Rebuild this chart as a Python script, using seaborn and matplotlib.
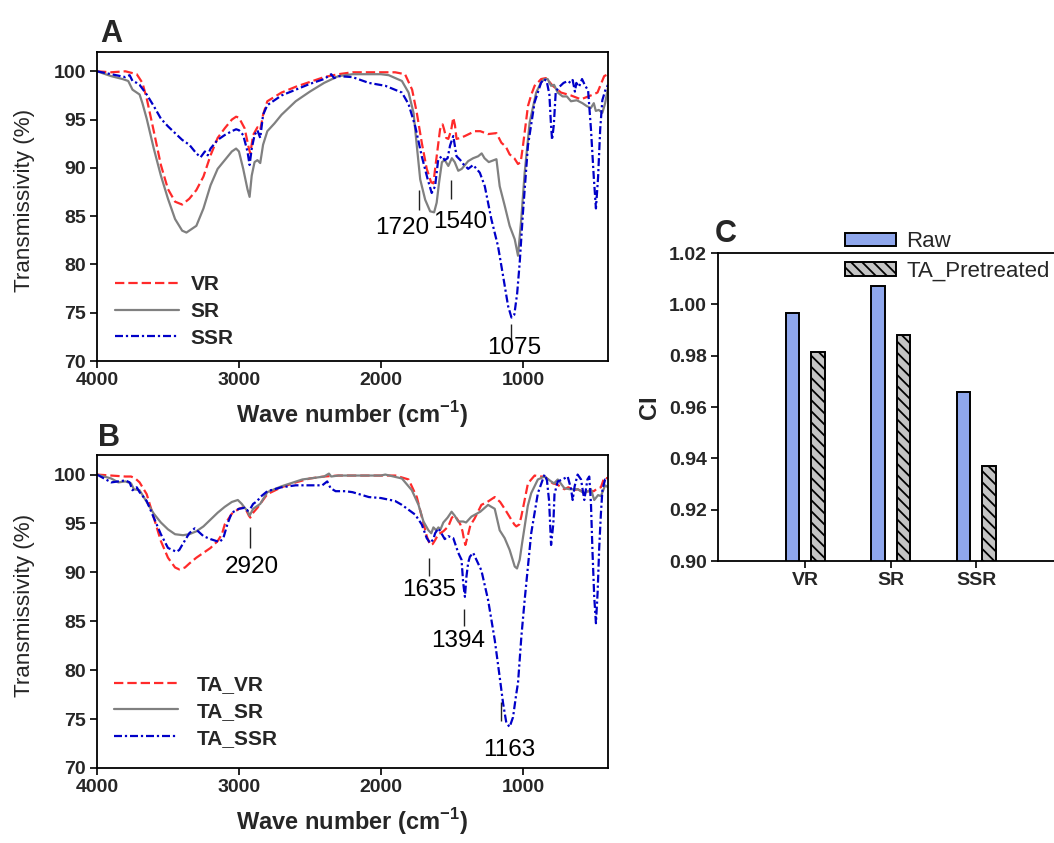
import numpy as np
import pandas as pd
import matplotlib
matplotlib.use("Agg")
import matplotlib.pyplot as plt
import seaborn as sns

# ---------------- Panel A data (wave number cm-1, transmissivity %) ----------------
wn_vr = [4000, 3900, 3800, 3720, 3680, 3650, 3600, 3550, 3500, 3450,
         3400, 3350, 3300, 3250, 3200, 3150, 3100, 3050, 3020, 3000,
         2960, 2930, 2920, 2900, 2870, 2850, 2830, 2800, 2700, 2600,
         2500, 2400, 2300, 2200, 2000, 1900, 1830, 1780, 1747, 1712,
         1677, 1646, 1630, 1618, 1600, 1583, 1565, 1555, 1540, 1525,
         1505, 1490, 1478, 1467, 1440, 1408, 1338, 1300, 1245, 1186,
         1151, 1120, 1093, 1060, 1034, 1015, 999, 980, 964, 940,
         917, 890, 871, 836, 789, 731, 661, 591, 521, 474,
         427, 400]
t_vr = [100, 99.9, 100, 99.7, 98.8, 97.2, 93.8, 90.3, 87.8, 86.5,
        86.2, 86.8, 87.7, 89.1, 91.3, 93.1, 94.1, 95.0, 95.3, 95.2,
        94.1, 92.0, 91.5, 93.4, 94.2, 93.9, 95.5, 96.9, 97.8, 98.4,
        98.9, 99.4, 99.7, 99.9, 99.9, 99.9, 99.7, 98.1, 95.7, 92.6,
        89.9, 88.5, 88.4, 89.9, 92.0, 94.0, 94.5, 94.0, 93.1, 93.0,
        93.9, 95.2, 94.4, 93.0, 93.1, 93.3, 93.8, 93.8, 93.5, 93.6,
        92.6, 92.2, 91.4, 91.0, 90.4, 90.6, 92.3, 94.5, 96.4, 97.6,
        98.5, 98.9, 99.2, 99.3, 98.5, 97.8, 97.5, 97.1, 97.5, 97.8,
        99.5, 99.7]

wn_sr = [4000, 3900, 3820, 3780, 3750, 3700, 3680, 3650, 3600, 3550,
         3500, 3450, 3400, 3370, 3330, 3300, 3250, 3200, 3150, 3100,
         3050, 3020, 3000, 2970, 2940, 2925, 2910, 2890, 2870, 2850,
         2830, 2800, 2750, 2700, 2600, 2500, 2400, 2300, 2200, 2000,
         1945, 1852, 1805, 1770, 1747, 1723, 1688, 1653, 1625, 1607,
         1590, 1570, 1550, 1525, 1500, 1480, 1455, 1430, 1385, 1350,
         1315, 1290, 1270, 1240, 1186, 1163, 1128, 1093, 1057, 1034,
         1011, 987, 952, 906, 870, 847, 825, 801, 780, 754,
         720, 690, 661, 620, 580, 550, 521, 500, 486, 465,
         440, 420, 400]
t_sr = [100, 99.5, 99.2, 99.0, 98.1, 97.6, 96.7, 95.1, 92.0, 89.2,
        86.8, 84.7, 83.5, 83.3, 83.7, 84.0, 85.8, 88.2, 89.9, 90.8,
        91.7, 92.0, 91.7, 89.9, 87.8, 87.0, 89.2, 90.6, 90.8, 90.5,
        92.4, 93.8, 94.6, 95.5, 96.9, 97.9, 98.8, 99.5, 99.7, 99.7,
        99.6, 99.0, 97.8, 95.7, 92.3, 88.8, 86.7, 85.5, 85.4, 86.4,
        88.5, 90.6, 90.8, 90.2, 91.0, 90.6, 89.7, 89.9, 90.7, 91.0,
        91.2, 91.5, 91.0, 90.6, 90.9, 88.1, 86.1, 84.0, 82.6, 80.9,
        84.7, 89.5, 94.7, 97.8, 98.9, 99.2, 99.2, 98.5, 98.6, 97.8,
        97.4, 97.4, 96.9, 97.0, 96.7, 96.4, 96.2, 96.7, 95.9, 96.0,
        95.7, 96.7, 98.3]

wn_ssr = [4000, 3900, 3800, 3770, 3750, 3720, 3700, 3650, 3600, 3550,
          3500, 3450, 3400, 3350, 3300, 3270, 3240, 3220, 3200, 3150,
          3100, 3050, 3020, 3000, 2970, 2940, 2925, 2910, 2890, 2870,
          2850, 2830, 2800, 2700, 2600, 2500, 2400, 2350, 2330, 2300,
          2200, 2085, 1969, 1852, 1805, 1758, 1712, 1670, 1642, 1618,
          1596, 1570, 1550, 1530, 1513, 1490, 1467, 1440, 1420, 1385,
          1350, 1303, 1268, 1222, 1175, 1139, 1104, 1080, 1060, 1040,
          1022, 999, 964, 917, 872, 853, 832, 813, 803, 794,
          782, 768, 742, 713, 682, 664, 649, 633, 623, 604,
          583, 564, 540, 520, 500, 485, 470, 455, 440, 420,
          400]
t_ssr = [100, 99.7, 99.4, 99.6, 99.0, 98.8, 98.6, 97.6, 96.4, 95.1,
         94.3, 93.6, 92.9, 92.4, 91.5, 91.1, 91.7, 91.3, 92.0, 92.9,
         93.4, 93.8, 94.0, 93.9, 93.4, 91.7, 90.3, 92.0, 93.4, 93.9,
         93.1, 95.5, 96.5, 97.5, 98.1, 98.7, 99.2, 99.7, 99.3, 99.5,
         99.4, 98.8, 98.5, 97.8, 96.6, 94.3, 91.2, 88.8, 87.4, 88.1,
         90.9, 91.2, 90.8, 91.0, 92.3, 93.3, 91.2, 90.8, 90.4, 89.9,
         90.3, 89.5, 88.1, 84.7, 81.9, 78.8, 75.7, 74.5, 74.8, 77.0,
         80.2, 85.4, 92.3, 96.8, 98.8, 99.2, 99.0, 97.6, 94.8, 92.9,
         94.4, 97.9, 98.4, 98.8, 99.0, 98.8, 99.1, 97.9, 98.8, 98.4,
         99.2, 98.6, 98.0, 94.0, 89.0, 85.8, 89.0, 94.0, 97.0, 98.0,
         98.6]

# ---------------- Panel B data ----------------
wn_ta_vr = [4000, 3900, 3800, 3760, 3730, 3700, 3650, 3600, 3550, 3500,
            3450, 3420, 3380, 3350, 3300, 3250, 3200, 3150, 3120, 3100,
            3050, 3000, 2960, 2930, 2920, 2900, 2870, 2850, 2800, 2700,
            2600, 2500, 2400, 2300, 2000, 1898, 1805, 1747, 1712, 1677,
            1653, 1635, 1618, 1595, 1560, 1525, 1500, 1480, 1460, 1440,
            1425, 1415, 1405, 1390, 1370, 1340, 1292, 1250, 1198, 1160,
            1128, 1090, 1060, 1046, 1025, 1011, 990, 964, 917, 880,
            847, 789, 760, 707, 680, 640, 614, 570, 532, 500,
            473, 450, 426, 400]
t_ta_vr = [100, 99.9, 99.8, 99.8, 99.6, 99.2, 98.0, 95.6, 93.2, 91.5,
           90.5, 90.3, 90.5, 90.9, 91.5, 92.0, 92.5, 93.2, 93.9, 94.9,
           96.0, 96.5, 96.7, 95.8, 95.6, 96.1, 96.6, 97.0, 98.0, 98.7,
           99.2, 99.6, 99.8, 99.9, 99.9, 99.9, 99.5, 97.7, 95.7, 93.7,
           92.8, 92.9, 93.3, 93.9, 94.2, 94.7, 95.6, 95.8, 95.4, 94.9,
           94.2, 93.4, 92.8, 93.6, 94.8, 95.5, 96.9, 97.2, 97.7, 97.2,
           96.5, 95.6, 94.9, 94.7, 94.9, 95.7, 97.2, 99.1, 99.9, 99.8,
           99.8, 99.1, 99.0, 98.5, 98.7, 98.4, 98.5, 98.2, 98.3, 98.3,
           98.6, 98.7, 99.7, 99.6]

wn_ta_sr = [4000, 3900, 3850, 3800, 3760, 3740, 3700, 3650, 3600, 3550,
            3500, 3450, 3394, 3350, 3300, 3250, 3200, 3150, 3100, 3050,
            3008, 2980, 2960, 2940, 2925, 2900, 2870, 2850, 2800, 2700,
            2553, 2500, 2400, 2366, 2350, 2300, 2000, 1969, 1852, 1782,
            1735, 1700, 1665, 1645, 1630, 1610, 1595, 1580, 1560, 1530,
            1502, 1480, 1455, 1420, 1400, 1362, 1300, 1245, 1198, 1163,
            1128, 1093, 1057, 1041, 1022, 1005, 987, 965, 941, 894,
            847, 801, 780, 754, 707, 670, 614, 580, 567, 540,
            520, 497, 470, 450, 420, 400]
t_ta_sr = [100, 99.6, 99.2, 99.3, 99.1, 98.5, 98.4, 97.2, 96.0, 95.1,
           94.4, 93.9, 93.8, 93.9, 94.2, 94.7, 95.4, 96.1, 96.7, 97.2,
           97.4, 97.0, 96.6, 96.3, 95.8, 96.5, 96.8, 97.0, 98.2, 98.8,
           99.5, 99.6, 99.8, 100.1, 99.8, 99.9, 99.9, 100.0, 99.6, 98.4,
           96.9, 95.2, 94.3, 94.0, 94.6, 94.3, 94.6, 94.4, 95.1, 95.6,
           96.2, 95.8, 95.2, 95.2, 95.1, 95.7, 96.2, 96.9, 96.5, 94.3,
           93.5, 92.3, 90.6, 90.4, 91.3, 93.0, 94.7, 96.8, 98.1, 99.5,
           99.8, 99.3, 99.1, 99.5, 98.6, 98.5, 98.5, 98.2, 98.1, 98.3,
           98.5, 97.4, 97.9, 97.8, 98.9, 98.7]

wn_ta_ssr = [4000, 3900, 3850, 3800, 3770, 3750, 3720, 3700, 3650, 3600,
             3550, 3500, 3440, 3420, 3400, 3350, 3312, 3280, 3250, 3200,
             3137, 3110, 3080, 3050, 3000, 2960, 2940, 2920, 2900, 2870,
             2850, 2800, 2700, 2600, 2500, 2413, 2378, 2354, 2319, 2250,
             2200, 2085, 2000, 1900, 1852, 1758, 1712, 1677, 1653, 1630,
             1618, 1595, 1570, 1550, 1525, 1490, 1455, 1432, 1420, 1408,
             1397, 1385, 1373, 1350, 1292, 1245, 1198, 1163, 1139, 1116,
             1093, 1069, 1046, 1034, 1010, 987, 941, 894, 847, 830,
             815, 801, 785, 777, 754, 720, 684, 660, 649, 635,
             614, 590, 567, 545, 532, 520, 509, 497, 485, 473,
             462, 450, 439, 420, 400]
t_ta_ssr = [100, 99.2, 99.3, 99.4, 99.2, 98.4, 98.7, 98.2, 97.3, 95.6,
            93.9, 92.5, 92.1, 92.3, 92.8, 94.0, 94.5, 94.1, 93.7, 93.4,
            93.1, 93.5, 95.0, 96.1, 96.5, 96.6, 96.3, 96.5, 97.0, 97.3,
            97.7, 98.3, 98.7, 98.9, 98.9, 98.9, 99.3, 98.6, 98.3, 98.3,
            98.2, 97.7, 97.6, 97.3, 96.9, 95.9, 94.9, 93.5, 93.0, 93.4,
            94.0, 94.5, 93.9, 93.4, 93.7, 93.5, 92.0, 91.3, 88.9, 87.5,
            89.6, 91.0, 91.6, 92.0, 90.2, 87.2, 83.1, 79.3, 76.6, 74.6,
            74.2, 75.2, 77.6, 78.7, 83.5, 87.2, 94.0, 98.1, 100.0, 99.4,
            97.3, 92.8, 95.0, 98.0, 99.3, 99.5, 99.8, 98.5, 97.4, 98.8,
            100.0, 99.5, 97.4, 99.5, 99.8, 97.0, 92.0, 87.5, 84.8, 88.0,
            92.5, 96.0, 98.5, 99.5, 99.5]

# ---------------- Band annotations ----------------
ann_a_labels = ["1720", "1540", "1075"]
ann_a_tick_wn = [1735, 1503, 1083]
ann_a_tick_lo = [85.6, 86.8, 72.2]
ann_a_tick_hi = [87.7, 88.7, 73.8]
ann_a_text_wn = [1849, 1439, 1060]
ann_a_text_t = [83.8, 84.4, 71.3]

ann_b_labels = ["2920", "1635", "1394", "1163"]
ann_b_tick_wn = [2922, 1660, 1411, 1154]
ann_b_tick_lo = [92.5, 89.6, 84.5, 74.8]
ann_b_tick_hi = [94.6, 91.5, 86.3, 76.7]
ann_b_text_wn = [2912, 1660, 1458, 1095]
ann_b_text_t = [90.6, 88.2, 83.0, 71.8]

# ---------------- Panel C data ----------------
ci_samples = ["VR", "SR", "SSR"]
ci_raw = [0.9965, 1.0070, 0.9660]
ci_ta = [0.9815, 0.9880, 0.9370]
ci_groups = ["Raw", "TA_Pretreated"]

# ---------------- Styling ----------------
sns.set_theme(style="white")
plt.rcParams['font.family'] = ['Liberation Sans', 'DejaVu Sans']
plt.rcParams['mathtext.fontset'] = 'custom'
plt.rcParams['mathtext.rm'] = 'Liberation Sans'
plt.rcParams['mathtext.bf'] = 'Liberation Sans:bold'
plt.rcParams['hatch.linewidth'] = 1.3
plt.rcParams['hatch.color'] = 'black'

RED = '#ff2a2a'
GRAY = '#808080'
BLUE = '#0000c8'

fig = plt.figure(figsize=(10.54, 8.43), dpi=100)
W, H = 1054.0, 843.0


def box(l, t, r, b):
    return [l / W, 1 - b / H, (r - l) / W, (b - t) / H]


axA = fig.add_axes(box(97, 52, 608, 361))
axB = fig.add_axes(box(97, 455, 608, 768))
axC = fig.add_axes(box(718, 253, 1062, 561))


def frame(series):
    parts = [pd.DataFrame({'wn': w, 'T': t, 'sample': n}) for n, w, t in series]
    return pd.concat(parts, ignore_index=True)


def spectra(ax, series, names, leg_x, leg_y, textpad):
    df = frame(series)
    pal = dict(zip(names, [RED, GRAY, BLUE]))
    dsh = dict(zip(names, [(4.2, 1.8), "", (3.6, 1.3, 1.0, 1.3)]))
    sns.lineplot(data=df, x='wn', y='T', hue='sample', style='sample',
                 hue_order=names, style_order=names, palette=pal, dashes=dsh,
                 sort=False, estimator=None, lw=1.6, ax=ax, legend=False)
    handles = list(ax.get_lines())[:3]
    ax.legend(handles, names, loc='lower left', bbox_to_anchor=(leg_x, leg_y),
              frameon=False, borderpad=0, borderaxespad=0,
              handlelength=3.1, handletextpad=textpad, labelspacing=0.38,
              prop={'weight': 'bold', 'size': 15})
    ax.set_xlim(4000, 400)
    ax.set_ylim(70, 102)
    ax.set_xticks([4000, 3000, 2000, 1000])
    ax.set_yticks([70, 75, 80, 85, 90, 95, 100])
    ax.set_xlabel(r'Wave number (cm$^{\mathbf{-1}}$)', fontsize=17, fontweight='bold', labelpad=7)
    ax.set_ylabel('Transmissivity (%)', fontsize=16.2)
    ax.yaxis.set_label_coords(-0.122, 0.52)


spectra(axA, [('VR', wn_vr, t_vr), ('SR', wn_sr, t_sr), ('SSR', wn_ssr, t_ssr)],
        ['VR', 'SR', 'SSR'], 0.035, 0.043, 0.53)
spectra(axB, [('TA_VR', wn_ta_vr, t_ta_vr), ('TA_SR', wn_ta_sr, t_ta_sr),
              ('TA_SSR', wn_ta_ssr, t_ta_ssr)],
        ['TA_VR', 'TA_SR', 'TA_SSR'], 0.033, 0.065, 0.9)

for ax, labs, twn, tlo, thi, xw, yt in [
        (axA, ann_a_labels, ann_a_tick_wn, ann_a_tick_lo, ann_a_tick_hi, ann_a_text_wn, ann_a_text_t),
        (axB, ann_b_labels, ann_b_tick_wn, ann_b_tick_lo, ann_b_tick_hi, ann_b_text_wn, ann_b_text_t)]:
    ax.vlines(twn, tlo, thi, colors='#222222', lw=1.0)
    for lab, x, y in zip(labs, xw, yt):
        ax.text(x, y, lab, fontsize=17.5, ha='center', va='center', color='black')

# ---------------- Panel C ----------------
dfC = pd.DataFrame({'sample': ci_samples * 2,
                    'CI': ci_raw + ci_ta,
                    'group': [ci_groups[0]] * 3 + [ci_groups[1]] * 3})
sns.barplot(data=dfC, x='sample', y='CI', hue='group', order=ci_samples,
            hue_order=ci_groups, palette={'Raw': '#7f9ffc', 'TA_Pretreated': '#c4c4c4'},
            width=0.6, gap=0.47, edgecolor='black', linewidth=1.4,
            ax=axC, legend=False, errorbar=None)
for bar in axC.containers[1]:
    bar.set_hatch('\\\\\\')
axC.set_ylim(0.90, 1.02)
axC.set_xlim(-1.02, 3.0)
axC.set_yticks(np.arange(0.90, 1.0201, 0.02))
axC.set_yticklabels([f'{v:.2f}' for v in np.arange(0.90, 1.0201, 0.02)])
axC.set_xlabel('')
axC.set_ylabel('CI', fontsize=17, fontweight='bold', labelpad=6)
axC.legend([axC.containers[0][0], axC.containers[1][0]], ci_groups,
           loc='lower left', bbox_to_anchor=(845 / W, 1 - 282 / H),
           bbox_transform=fig.transFigure, frameon=False, borderpad=0,
           borderaxespad=0, handlelength=2.3, handleheight=0.55,
           handletextpad=0.45, labelspacing=0.4, prop={'size': 16})

# ---------------- Common axes styling ----------------
for ax in (axA, axB, axC):
    for s in ax.spines.values():
        s.set_visible(True)
        s.set_color('black')
        s.set_linewidth(1.3)
    ax.tick_params(direction='out', length=5, width=1.2, color='black', pad=3,
                   labelsize=14, bottom=True, left=True, top=False, right=False)
    for lab in ax.get_xticklabels() + ax.get_yticklabels():
        lab.set_fontweight('bold')
    ax.grid(False)
    ax.set_facecolor('white')

fig.text(100 / W, 1 - 42 / H, 'A', fontsize=22, fontweight='bold', va='baseline')
fig.text(98 / W, 1 - 446 / H, 'B', fontsize=22, fontweight='bold', va='baseline')
fig.text(715 / W, 1 - 242 / H, 'C', fontsize=22, fontweight='bold', va='baseline')

fig.savefig('out.png', dpi=100, facecolor='white')
